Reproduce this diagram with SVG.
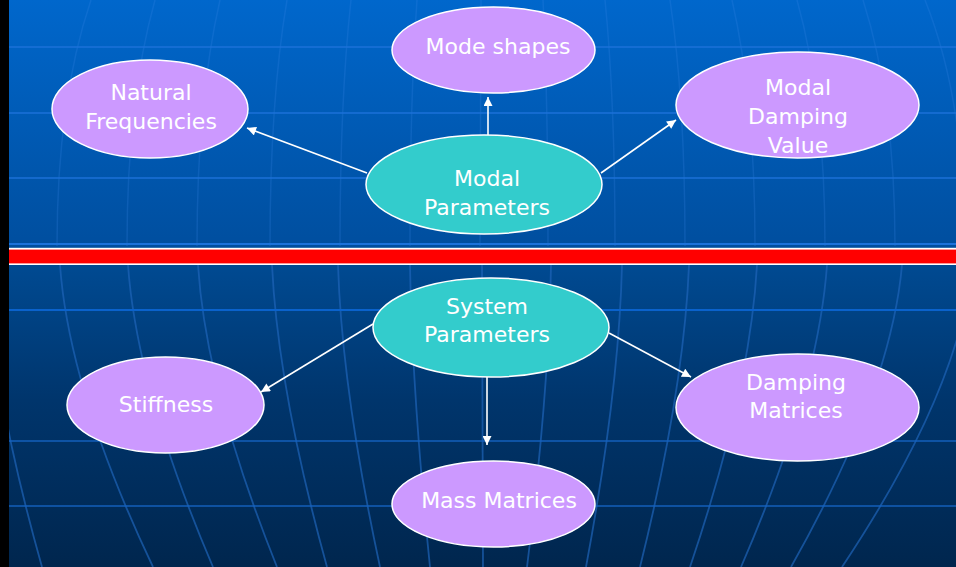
<svg xmlns="http://www.w3.org/2000/svg" width="956" height="567" viewBox="0 0 956 567">
  <defs>
    <linearGradient id="gTop" x1="0" y1="0" x2="0" y2="1">
      <stop offset="0" stop-color="#0067CC"/>
      <stop offset="1" stop-color="#004E9E"/>
    </linearGradient>
    <linearGradient id="gBot" x1="0" y1="0" x2="0" y2="1">
      <stop offset="0" stop-color="#004A92"/>
      <stop offset="0.45" stop-color="#00356C"/>
      <stop offset="1" stop-color="#00264E"/>
    </linearGradient>
    <marker id="arr" viewBox="0 0 10 10" refX="10" refY="5" markerWidth="10" markerHeight="9" markerUnits="userSpaceOnUse" orient="auto">
      <path d="M0,0 L10,5 L0,10 Z" fill="#FFFFFF"/>
    </marker>
  </defs>
  <style>
    .hline { stroke: #1C72DA; stroke-width: 2; opacity: 0.7; fill: none; }
    .hlineB { stroke: #1462C0; stroke-width: 2; opacity: 0.7; fill: none; }
    .vtop { stroke: #3C8AE6; stroke-width: 1.5; opacity: 0.22; fill: none; }
    .vbot { stroke: #1E64B8; stroke-width: 1.8; opacity: 0.7; fill: none; }
    .purple { fill: #CC99FF; stroke: #FFFFFF; stroke-width: 1.5; }
    .teal { fill: #33CCCC; stroke: #FFFFFF; stroke-width: 1.5; }
    .lbl { font-family: "DejaVu Sans", sans-serif; font-size: 22px; fill: #FFFFFF; text-anchor: middle; }
    .conn { stroke: #FFFFFF; stroke-width: 1.6; fill: none; marker-end: url(#arr); }
  </style>

  <!-- background -->
  <g id="background">
    <rect x="0" y="0" width="956" height="249" fill="url(#gTop)"/>
    <rect x="0" y="264" width="956" height="303" fill="url(#gBot)"/>
    <!-- top grid -->
    <g>
      <path class="vtop" d="M57,246 Q57,100 91,0"/>
      <path class="vtop" d="M127,246 Q127,100 155,0"/>
      <path class="vtop" d="M197,246 Q197,100 220,0"/>
      <path class="vtop" d="M270,246 Q270,100 287,0"/>
      <path class="vtop" d="M340,246 Q340,100 351,0"/>
      <path class="vtop" d="M410,246 Q410,100 417,0"/>
      <path class="vtop" d="M480,246 L481,0"/>
      <path class="vtop" d="M548,246 Q548,100 543,0"/>
      <path class="vtop" d="M615,246 Q615,100 605,0"/>
      <path class="vtop" d="M685,246 Q685,100 670,0"/>
      <path class="vtop" d="M755,246 Q755,100 732,0"/>
      <path class="vtop" d="M825,246 Q825,100 797,0"/>
      <path class="vtop" d="M895,246 Q895,100 863,0"/>
      <path class="vtop" d="M965,246 Q965,100 925,0"/>
      <line class="hline" x1="0" y1="47" x2="956" y2="47"/>
      <line class="hline" x1="0" y1="113" x2="956" y2="113"/>
      <line class="hline" x1="0" y1="178" x2="956" y2="178"/>
      <line class="hline" x1="0" y1="244" x2="956" y2="244" style="opacity:1"/>
    </g>
    <!-- bottom grid -->
    <g>
      <path class="vbot" d="M-14,265 Q-8,390 42,567"/>
      <path class="vbot" d="M60,265 Q69,390 153,567"/>
      <path class="vbot" d="M128,265 Q137,390 213,567"/>
      <path class="vbot" d="M198,265 Q206,390 277,567"/>
      <path class="vbot" d="M272,265 Q278,390 327,567"/>
      <path class="vbot" d="M338,265 Q342,390 380,567"/>
      <path class="vbot" d="M410,265 Q412,390 430,567"/>
      <path class="vbot" d="M482,265 L483,567"/>
      <path class="vbot" d="M551,265 Q549,390 527,567"/>
      <path class="vbot" d="M622,265 Q619,390 586,567"/>
      <path class="vbot" d="M689,265 Q684,390 640,567"/>
      <path class="vbot" d="M757,265 Q750,390 690,567"/>
      <path class="vbot" d="M827,265 Q818,390 741,567"/>
      <path class="vbot" d="M902,265 Q891,390 791,567"/>
      <path class="vbot" d="M972,265 Q960,390 842,567"/>
      <line class="hlineB" x1="0" y1="310" x2="956" y2="310" style="stroke:#0A62CC;opacity:1"/>
      <line class="hlineB" x1="0" y1="441" x2="956" y2="441"/>
      <line class="hlineB" x1="0" y1="506" x2="956" y2="506"/>
    </g>
    <!-- separator band -->
    <rect x="0" y="247.8" width="956" height="17.2" fill="#FFFFFF"/>
    <rect x="0" y="249.6" width="956" height="13.8" fill="#FF0000"/>
    <!-- left black strip -->
    <rect x="0" y="0" width="9" height="567" fill="#000000"/>
  </g>

  <!-- connectors -->
  <g id="connectors">
    <line class="conn" x1="367" y1="173" x2="247" y2="128"/>
    <line class="conn" x1="488" y1="135" x2="488" y2="97"/>
    <line class="conn" x1="601" y1="173" x2="676" y2="120"/>
    <line class="conn" x1="373" y1="324" x2="261" y2="392"/>
    <line class="conn" x1="487" y1="377" x2="487" y2="445"/>
    <line class="conn" x1="609" y1="333" x2="691" y2="377"/>
  </g>

  <!-- nodes -->
  <g id="natural-frequencies">
    <ellipse class="purple" cx="150" cy="109" rx="98" ry="49"/>
    <text class="lbl" x="151" y="100">Natural</text>
    <text class="lbl" x="151" y="129">Frequencies</text>
  </g>
  <g id="mode-shapes">
    <ellipse class="purple" cx="493.5" cy="50" rx="101.5" ry="43"/>
    <text class="lbl" x="498" y="54">Mode shapes</text>
  </g>
  <g id="modal-damping-value">
    <ellipse class="purple" cx="797.5" cy="105" rx="121.5" ry="53"/>
    <text class="lbl" x="798" y="95">Modal</text>
    <text class="lbl" x="798" y="124">Damping</text>
    <text class="lbl" x="798" y="153">Value</text>
  </g>
  <g id="modal-parameters">
    <ellipse class="teal" cx="484" cy="184.5" rx="118" ry="49.5"/>
    <text class="lbl" x="487" y="186">Modal</text>
    <text class="lbl" x="487" y="215">Parameters</text>
  </g>
  <g id="system-parameters">
    <ellipse class="teal" cx="491" cy="327.5" rx="118" ry="49.5"/>
    <text class="lbl" x="487" y="314">System</text>
    <text class="lbl" x="487" y="342">Parameters</text>
  </g>
  <g id="stiffness">
    <ellipse class="purple" cx="165.5" cy="405" rx="98.5" ry="48"/>
    <text class="lbl" x="166" y="412">Stiffness</text>
  </g>
  <g id="damping-matrices">
    <ellipse class="purple" cx="797.5" cy="407.5" rx="121.5" ry="53.5"/>
    <text class="lbl" x="796" y="390">Damping</text>
    <text class="lbl" x="796" y="418">Matrices</text>
  </g>
  <g id="mass-matrices">
    <ellipse class="purple" cx="493.5" cy="504" rx="101.5" ry="43"/>
    <text class="lbl" x="499" y="508">Mass Matrices</text>
  </g>
</svg>
